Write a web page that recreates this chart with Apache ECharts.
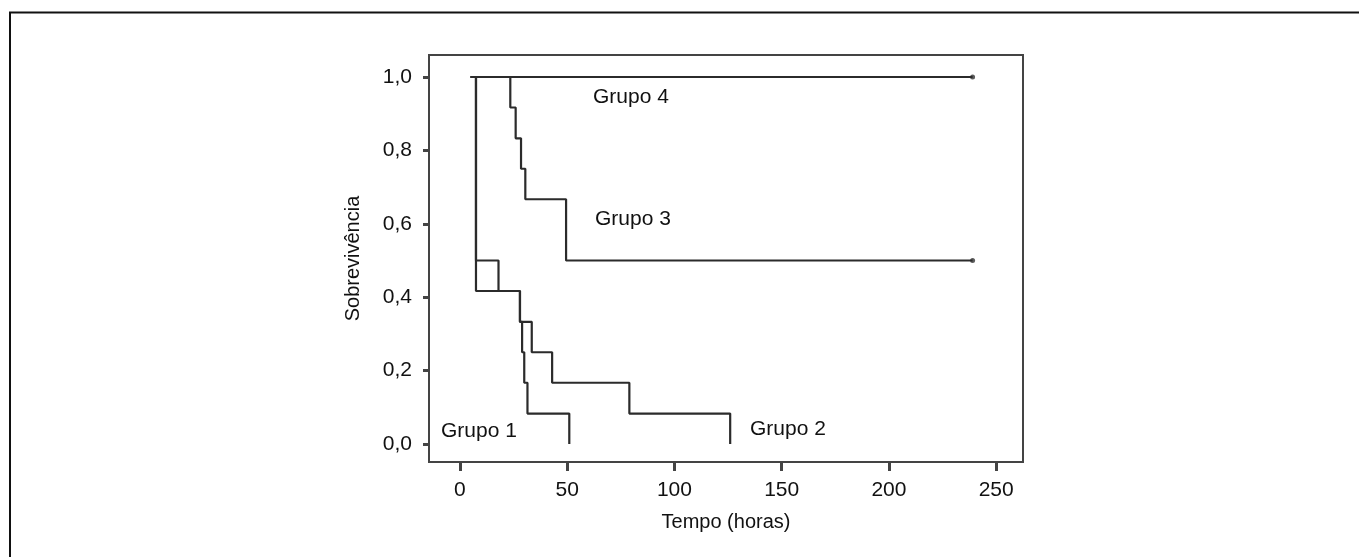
<!DOCTYPE html>
<html>
<head>
<meta charset="utf-8">
<script src="https://cdn.jsdelivr.net/npm/echarts@6/dist/echarts.min.js"></script>
<style>
  html, body { margin: 0; padding: 0; background: #fff; }
  #main { width: 1359px; height: 557px; }
</style>
</head>
<body>
<div id="main"></div>
<script>
// tempos (horas) e sobrevivência de cada grupo
var grupo1Tempo = [5, 7.5, 28, 29, 30, 31.5, 51];
var grupo1Sobrev = [1, 0.417, 0.333, 0.25, 0.167, 0.083, 0];

var grupo2Tempo = [5, 7.5, 18, 28, 33.5, 43, 79, 126];
var grupo2Sobrev = [1, 0.5, 0.417, 0.333, 0.25, 0.167, 0.083, 0];

var grupo3Tempo = [5, 23.5, 26, 28.5, 30.5, 49.5, 239];
var grupo3Sobrev = [1, 0.917, 0.833, 0.75, 0.667, 0.5, 0.5];

var grupo4Tempo = [5, 239];
var grupo4Sobrev = [1, 1];

// casos censurados no fim do seguimento
var censTempo = [239, 239];
var censSobrev = [0.5, 1];

var xTicks = [0, 50, 100, 150, 200, 250];
var yTicks = [0, 0.2, 0.4, 0.6, 0.8, 1.0];

var font = '"Liberation Sans", Arial, sans-serif';

var pares = function(t, s){
	var out = [];
	for (var i = 0; i < t.length; i++) out.push([t[i], s[i]]);
	return out;
};

var curva = function(nome, t, s){
	return {
		name: nome,
		type: 'line',
		step: 'end',
		symbol: 'none',
		silent: true,
		lineStyle: { color: '#2b2b2b', width: 2.2 },
		data: pares(t, s)
	};
};

var chart = echarts.init(document.getElementById('main'));

chart.setOption({
	animation: false,
	backgroundColor: '#fff',
	grid: {
		left: 429, top: 55, width: 594, height: 407,
		show: true,
		borderColor: '#444',
		borderWidth: 2
	},
	xAxis: {
		type: 'value',
		min: -14.4, max: 262.5,
		axisLine: { show: false, onZero: false },
		splitLine: { show: false },
		axisTick: { show: true, customValues: xTicks, length: 9, lineStyle: { color: '#444', width: 3 } },
		axisLabel: { customValues: xTicks, margin: 18, color: '#111', fontSize: 21, fontFamily: font },
		name: 'Tempo (horas)',
		nameLocation: 'middle',
		nameGap: 50,
		nameTextStyle: { color: '#111', fontSize: 20, fontFamily: font }
	},
	yAxis: {
		type: 'value',
		min: -0.049, max: 1.06,
		axisLine: { show: false, onZero: false },
		splitLine: { show: false },
		axisTick: { show: true, customValues: yTicks, length: 6, lineStyle: { color: '#444', width: 3 } },
		axisLabel: {
			customValues: yTicks, margin: 17, color: '#111', fontSize: 21, fontFamily: font,
			formatter: function(v){ return v.toFixed(1).replace('.', ','); }
		},
		name: 'Sobrevivência',
		nameLocation: 'middle',
		nameGap: 66,
		nameTextStyle: { color: '#111', fontSize: 20, fontFamily: font }
	},
	series: [
		curva('Grupo 1', grupo1Tempo, grupo1Sobrev),
		curva('Grupo 2', grupo2Tempo, grupo2Sobrev),
		curva('Grupo 3', grupo3Tempo, grupo3Sobrev),
		curva('Grupo 4', grupo4Tempo, grupo4Sobrev),
		{
			type: 'scatter',
			symbol: 'circle',
			symbolSize: 5,
			silent: true,
			itemStyle: { color: '#333' },
			data: pares(censTempo, censSobrev)
		}
	],
	graphic: [
		{ type: 'polyline', shape: { points: [[10, 557], [10, 12.5], [1360, 12.5]] }, style: { stroke: '#111', lineWidth: 2, fill: null } },
		{ type: 'text', left: 593, top: 87, style: { text: 'Grupo 4', fontSize: 21, fontFamily: font, fill: '#111' } },
		{ type: 'text', left: 595, top: 209, style: { text: 'Grupo 3', fontSize: 21, fontFamily: font, fill: '#111' } },
		{ type: 'text', left: 441, top: 421, style: { text: 'Grupo 1', fontSize: 21, fontFamily: font, fill: '#111' } },
		{ type: 'text', left: 750, top: 419, style: { text: 'Grupo 2', fontSize: 21, fontFamily: font, fill: '#111' } }
	]
});
</script>
</body>
</html>
